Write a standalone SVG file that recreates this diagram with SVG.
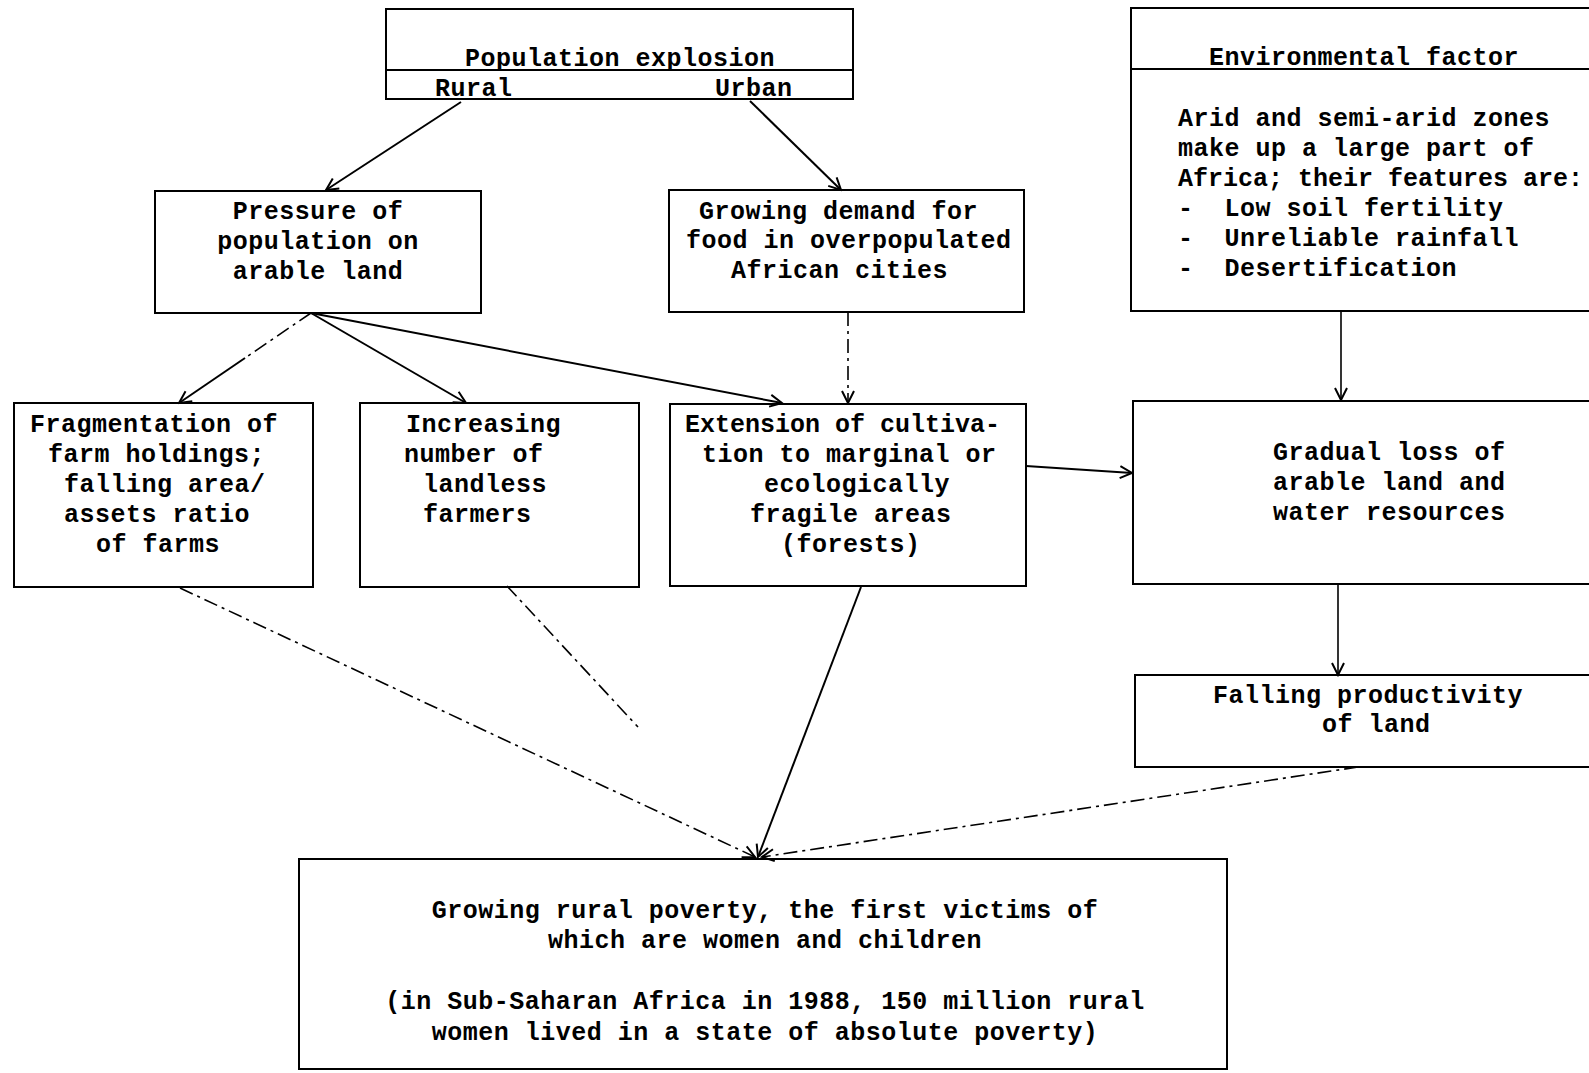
<svg xmlns="http://www.w3.org/2000/svg" width="1589" height="1073" viewBox="0 0 1589 1073">
<style>
  .box { fill: none; stroke: #000; stroke-width: 2; }
  .t { font-family: "Liberation Mono", "DejaVu Sans Mono", monospace; font-weight: bold; font-size: 25px; letter-spacing: 0.5px; fill: #000; white-space: pre; }
  .c { text-anchor: middle; }
  .ln { fill: none; stroke: #000; stroke-width: 2; }
  .thin { fill: none; stroke: #000; stroke-width: 1.6; }
  .dash { fill: none; stroke: #000; stroke-width: 1.6; stroke-dasharray: 14 5 3 5; }
</style>
<defs>
  <marker id="ah" viewBox="-14 -8 16 16" refX="0" refY="0" markerWidth="16" markerHeight="16" markerUnits="userSpaceOnUse" orient="auto">
    <path d="M-12,-6 L0,0 L-12,6" fill="none" stroke="#000" stroke-width="2"/>
  </marker>
</defs>
<rect width="1589" height="1073" fill="#fff"/>

<g id="population">
  <rect class="box" x="386" y="9" width="467" height="90"/>
  <line class="ln" x1="386" y1="70" x2="853" y2="70"/>
  <text class="t" x="465" y="66">Population explosion</text>
  <text class="t" x="435" y="96">Rural</text>
  <text class="t" x="715" y="96">Urban</text>
</g>

<g id="environment">
  <rect class="box" x="1131" y="8" width="480" height="303"/>
  <line class="ln" x1="1131" y1="69" x2="1611" y2="69"/>
  <text class="t" x="1209" y="65">Environmental factor</text>
  <text class="t" x="1178" y="126">Arid and semi-arid zones</text>
  <text class="t" x="1178" y="156">make up a large part of</text>
  <text class="t" x="1178" y="186" style="letter-spacing:0px">Africa; their features are:</text>
  <text class="t" x="1178" y="216">-  Low soil fertility</text>
  <text class="t" x="1178" y="246">-  Unreliable rainfall</text>
  <text class="t" x="1178" y="276">-  Desertification</text>
</g>

<g id="pressure">
  <rect class="box" x="155" y="191" width="326" height="122"/>
  <text class="t c" x="318" y="219">Pressure of</text>
  <text class="t c" x="318" y="249">population on</text>
  <text class="t c" x="318" y="279">arable land</text>
</g>

<g id="demand">
  <rect class="box" x="669" y="190" width="355" height="122"/>
  <text class="t" x="699" y="219">Growing demand for</text>
  <text class="t" x="686" y="248">food in overpopulated</text>
  <text class="t" x="731" y="278">African cities</text>
</g>

<g id="fragmentation">
  <rect class="box" x="14" y="403" width="299" height="184"/>
  <text class="t" x="30" y="432">Fragmentation of</text>
  <text class="t" x="48" y="462">farm holdings;</text>
  <text class="t" x="64" y="492">falling area/</text>
  <text class="t" x="64" y="522">assets ratio</text>
  <text class="t" x="96" y="552">of farms</text>
</g>

<g id="landless">
  <rect class="box" x="360" y="403" width="279" height="184"/>
  <text class="t" x="406" y="432">Increasing</text>
  <text class="t" x="404" y="462">number of</text>
  <text class="t" x="423" y="492">landless</text>
  <text class="t" x="423" y="522">farmers</text>
</g>

<g id="extension">
  <rect class="box" x="670" y="404" width="356" height="182"/>
  <text class="t" x="685" y="432" style="letter-spacing:0px">Extension of cultiva-</text>
  <text class="t" x="702" y="462">tion to marginal or</text>
  <text class="t" x="764" y="492">ecologically</text>
  <text class="t" x="750" y="522">fragile areas</text>
  <text class="t" x="781" y="552">(forests)</text>
</g>

<g id="gradual">
  <rect class="box" x="1133" y="401" width="480" height="183"/>
  <text class="t" x="1273" y="460">Gradual loss of</text>
  <text class="t" x="1273" y="490">arable land and</text>
  <text class="t" x="1273" y="520">water resources</text>
</g>

<g id="falling">
  <rect class="box" x="1135" y="675" width="480" height="92"/>
  <text class="t" x="1213" y="703">Falling productivity</text>
  <text class="t" x="1322" y="732">of land</text>
</g>

<g id="poverty">
  <rect class="box" x="299" y="859" width="928" height="210"/>
  <text class="t c" x="765" y="918">Growing rural poverty, the first victims of</text>
  <text class="t c" x="765" y="948">which are women and children</text>
  <text class="t c" x="765" y="1009">(in Sub-Saharan Africa in 1988, 150 million rural</text>
  <text class="t c" x="765" y="1040">women lived in a state of absolute poverty)</text>
</g>

<g id="connectors">
  <line class="ln" x1="461" y1="102" x2="326" y2="190" marker-end="url(#ah)"/>
  <line class="ln" x1="750" y1="101" x2="841" y2="190" marker-end="url(#ah)"/>
  <line class="dash" x1="311" y1="313" x2="245" y2="358"/>
  <line class="ln" x1="245" y1="358" x2="179" y2="403" marker-end="url(#ah)"/>
  <line class="ln" x1="311" y1="313" x2="466" y2="403" marker-end="url(#ah)"/>
  <line class="ln" x1="311" y1="313" x2="782" y2="403" marker-end="url(#ah)"/>
  <line class="dash" x1="848" y1="312" x2="848" y2="403" marker-end="url(#ah)"/>
  <line class="ln" x1="1026" y1="466" x2="1132" y2="473" marker-end="url(#ah)"/>
  <line class="thin" x1="1341" y1="311" x2="1341" y2="400" marker-end="url(#ah)"/>
  <line class="thin" x1="1338" y1="585" x2="1338" y2="675" marker-end="url(#ah)"/>
  <line class="dash" x1="180" y1="588" x2="755" y2="857" marker-end="url(#ah)"/>
  <line class="dash" x1="507" y1="586" x2="638" y2="727"/>
  <line class="ln" x1="861" y1="587" x2="758" y2="857" marker-end="url(#ah)"/>
  <line class="dash" x1="1358" y1="767" x2="762" y2="857" marker-end="url(#ah)"/>
</g>
</svg>
